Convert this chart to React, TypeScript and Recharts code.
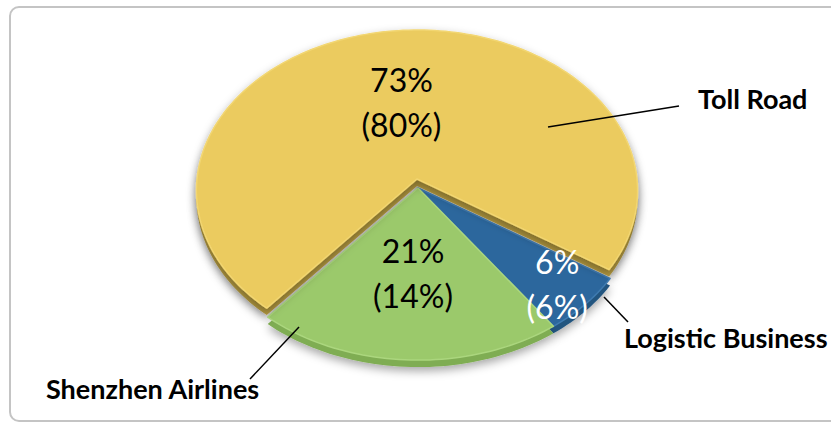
import { Pie, PieChart } from 'recharts';

// segment shares, current year vs (prior year)
const SEGMENTS = ['Logistic Business', 'Shenzhen Airlines', 'Toll Road'];
const SHARE_NOW = [6, 21, 73];
const SHARE_PRIOR = [6, 14, 80];

const TOP_COL: Record<string, string> = {
  'Logistic Business': '#2C679D',
  'Shenzhen Airlines': '#9BC96B',
  'Toll Road': '#EBCB5E',
};
const RIM_COL: Record<string, string> = {
  'Logistic Business': '#3F7BB0',
  'Shenzhen Airlines': '#ABD67E',
  'Toll Road': '#F2D672',
};
const SIDE_COL: Record<string, string> = {
  'Logistic Business': '#22557F',
  'Shenzhen Airlines': '#7FAD52',
  'Toll Road': '#B49A40',
};
// exploded slice offset (px)
const EXPLODE: Record<string, [number, number]> = {
  'Logistic Business': [0, 0],
  'Shenzhen Airlines': [0, 0],
  'Toll Road': [-1, -9],
};
const VALUE_POS: Record<string, { r: number; color: string }> = {
  'Logistic Business': { r: 0.84, color: '#ffffff' },
  'Shenzhen Airlines': { r: 0.52, color: '#000000' },
  'Toll Road': { r: 0.5, color: '#000000' },
};
// leader line + name label, offsets from pie centre
const NAME_POS: Record<string, { line: number[]; text: number[] }> = {
  'Logistic Business': { line: [186, 109, 210, 134], text: [206, 160] },
  'Shenzhen Airlines': { line: [-119, 139, -168, 191], text: [-372, 211] },
  'Toll Road': { line: [130, -61, 261, -82], text: [280, -79] },
};

const TILT = 0.726;
const PERSP = 0.072;
const DEPTH = 7;

const rows = SEGMENTS.map((name, i) => ({ name, share: SHARE_NOW[i], prior: SHARE_PRIOR[i] }));

function project(a: number, r: number, R: number) {
  const rad = (a * Math.PI) / 180;
  const u = r * Math.cos(rad);
  const v = -r * Math.sin(rad);
  const s = 1 / (1 - (PERSP * v) / R);
  return [u * s, v * TILT * s];
}

function slicePath(p: any, dy: number) {
  const [ox, oy] = EXPLODE[p.name] || [0, 0];
  const x0 = p.cx + ox;
  const y0 = p.cy + oy + dy;
  const n = Math.max(2, Math.ceil(Math.abs(p.endAngle - p.startAngle) / 1.5));
  let d = `M${x0},${y0}`;
  for (let i = 0; i <= n; i++) {
    const a = p.startAngle + ((p.endAngle - p.startAngle) * i) / n;
    const [x, y] = project(a, p.outerRadius, p.outerRadius);
    d += ` L${(x0 + x).toFixed(2)},${(y0 + y).toFixed(2)}`;
  }
  return d + ' Z';
}

const sideShape = (p: any) => (
  <g>
    {p.index === 0 && (
      <defs>
        <filter id='pieShadow' x='-20%' y='-20%' width='140%' height='140%'>
          <feDropShadow dx='0' dy='4' stdDeviation='5' floodColor='#000' floodOpacity='0.35' />
        </filter>
      </defs>
    )}
    <path d={slicePath(p, DEPTH)} fill={SIDE_COL[p.name]} filter='url(#pieShadow)' />
  </g>
);

const topShape = (p: any) => (
  <path
    d={slicePath(p, 0)}
    fill={TOP_COL[p.name]}
    stroke={RIM_COL[p.name]}
    strokeWidth={1.5}
    strokeLinejoin='round'
    filter={p.name === 'Toll Road' ? 'url(#pieShadow)' : undefined}
  />
);

const renderLabel = (p: any) => {
  const name = p.name;
  const [ox, oy] = EXPLODE[name] || [0, 0];
  const vp = VALUE_POS[name];
  const [lx, ly] = project(p.midAngle, p.outerRadius * vp.r, p.outerRadius);
  const vx = p.cx + ox + lx;
  const vy = p.cy + oy + ly;
  const np = NAME_POS[name];
  const row = rows[p.index];
  return (
    <g>
      <text x={vx} y={vy - 11} textAnchor='middle' fill={vp.color} fontFamily='Lato' fontSize={32}>
        {`${row.share}%`}
      </text>
      <text x={vx} y={vy + 34} textAnchor='middle' fill={vp.color} fontFamily='Lato' fontSize={32}>
        {`(${row.prior}%)`}
      </text>
      <line
        x1={p.cx + np.line[0]}
        y1={p.cy + np.line[1]}
        x2={p.cx + np.line[2]}
        y2={p.cy + np.line[3]}
        stroke='#000'
        strokeWidth={1.5}
      />
      <text x={p.cx + np.text[0]} y={p.cy + np.text[1]} fill='#000' fontFamily='Lato' fontWeight={700} fontSize={27}>
        {name}
      </text>
    </g>
  );
};

export default function App() {
  return (
    <div style={{ position: 'absolute', left: 0, top: 0, width: 831, height: 422, overflow: 'hidden', background: '#fff' }}>
      <div
        style={{
          position: 'absolute',
          left: 9,
          top: 6,
          width: 900,
          height: 416,
          border: '2px solid #C4C4C4',
          borderRadius: 10,
          boxSizing: 'border-box',
        }}
      />
      <div style={{ position: 'absolute', left: 0, top: 0 }}>
        <PieChart width={831} height={422} margin={{ top: 0, right: 0, bottom: 0, left: 0 }}>
          <Pie
            data={rows}
            dataKey='share'
            nameKey='name'
            cx={418}
            cy={188}
            outerRadius={220}
            startAngle={-33}
            endAngle={-393}
            stroke='none'
            shape={sideShape}
            isAnimationActive={false}
          />
          <Pie
            data={rows}
            dataKey='share'
            nameKey='name'
            cx={418}
            cy={188}
            outerRadius={220}
            startAngle={-33}
            endAngle={-393}
            stroke='none'
            shape={topShape}
            label={renderLabel}
            labelLine={false}
            isAnimationActive={false}
          />
        </PieChart>
      </div>
    </div>
  );
}
